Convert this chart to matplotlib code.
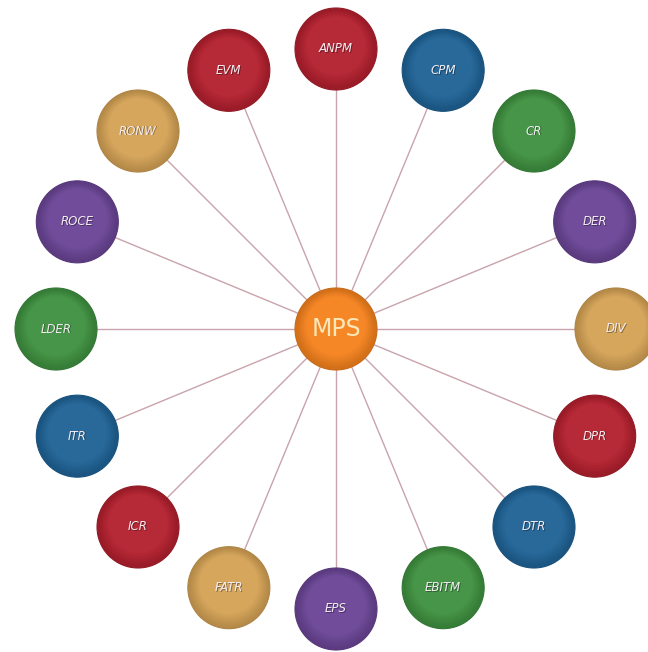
import numpy as np
import matplotlib
matplotlib.use("Agg")
import matplotlib.pyplot as plt
import matplotlib.patches as mplpatches
from matplotlib import colors as mcolors

'''
Radial diagram: MPS in the middle, ratio nodes around it
'''

center_label = "MPS"
node_labels = ["ANPM", "CPM", "CR", "DER", "DIV", "DPR", "DTR", "EBITM",
               "EPS", "FATR", "ICR", "ITR", "LDER", "ROCE", "RONW", "EVM"]
node_colors = ["#b3202e", "#1f6396", "#3f9140", "#6b4596", "#d4a255"] * 4
node_colors = node_colors[:len(node_labels)]

cx, cy = 336, 329
ring_r = 280
node_r = 41


def sphere(ax, x, y, r, color, z):
    base = np.array(mcolors.to_rgb(color))
    dark = base * 0.86
    light = np.clip(base + (1 - base) * 0.04, 0, 1)
    ax.add_patch(mplpatches.Circle((x, y), r, facecolor=dark, edgecolor=dark * 0.95,
                                   lw=0.8, zorder=z))
    # layered discs for a soft top light
    for i in range(10):
        t = i / 9
        rr = r * (0.97 - 0.25 * t)
        off = r * 0.08 * t
        col = dark + (light - dark) * t
        ax.add_patch(mplpatches.Circle((x, y - off), rr, facecolor=col,
                                       edgecolor='none', zorder=z + 0.01 * (i + 1)))


fig = plt.figure(figsize=(6.48, 6.52), dpi=100)
ax = fig.add_axes([0, 0, 1, 1])
ax.set_xlim(0, 648)
ax.set_ylim(652, 0)
ax.set_aspect('equal')
ax.axis('off')

n = len(node_labels)
angles = np.deg2rad(90 - 360.0 / n * np.arange(n))
for lab, col, a in zip(node_labels, node_colors, angles):
    x = cx + ring_r * np.cos(a)
    y = cy - ring_r * np.sin(a)
    ax.plot([cx, x], [cy, y], color='#c9a3ab', lw=1.0, zorder=1)
    sphere(ax, x, y, node_r, col, 2)
    ax.text(x + 0.8, y + 0.8, lab, color='black', alpha=0.35, fontsize=8.5,
            style='italic', ha='center', va='center', zorder=3)
    ax.text(x, y, lab, color='#f4eef4', fontsize=8.5, style='italic',
            ha='center', va='center', zorder=3.1)

sphere(ax, cx, cy, node_r, '#f5821e', 4)
ax.text(cx, cy, center_label, color='#fbe8b8', fontsize=17,
        ha='center', va='center', zorder=5)

fig.savefig('out.png', dpi=100)
